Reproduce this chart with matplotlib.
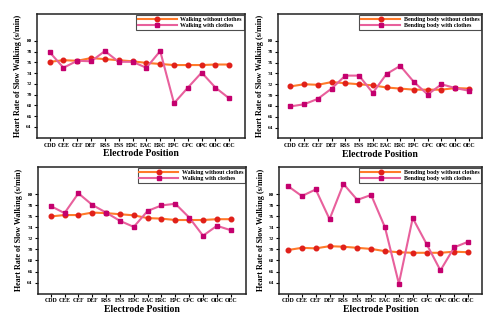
import matplotlib
matplotlib.use("Agg")
import matplotlib.pyplot as plt

categories = ["CDD", "CEE", "CEF", "DEF", "RSS", "ESS", "EDC", "EAC", "ERC",
              "EPC", "CPC", "OPC", "ODC", "OEC"]

walk1_without = [76.1, 76.4, 76.3, 76.8, 76.6, 76.4, 76.2, 75.9, 75.7, 75.5, 75.5, 75.5, 75.6, 75.6]
walk1_with = [77.9, 75.0, 76.3, 76.2, 78.1, 76.1, 76.1, 75.0, 78.1, 68.4, 71.3, 74.1, 71.3, 69.3]

bend1_without = [71.6, 72.0, 71.9, 72.4, 72.2, 72.0, 71.8, 71.4, 71.2, 71.0, 71.0, 71.0, 71.3, 71.2]
bend1_with = [67.9, 68.3, 69.3, 71.2, 73.6, 73.6, 70.4, 73.9, 75.4, 72.4, 70.1, 72.0, 71.3, 70.8]

walk2_without = [76.0, 76.25, 76.25, 76.7, 76.6, 76.4, 76.2, 75.7, 75.6, 75.35, 75.35, 75.35, 75.5, 75.5]
walk2_with = [77.9, 76.6, 80.2, 78.1, 76.7, 75.2, 74.1, 77.0, 78.0, 78.3, 75.8, 72.5, 74.3, 73.5]

bend2_without = [69.9, 70.3, 70.2, 70.6, 70.5, 70.3, 70.1, 69.7, 69.5, 69.4, 69.4, 69.4, 69.6, 69.5]
bend2_with = [81.5, 79.7, 80.9, 75.5, 81.9, 79.0, 79.9, 74.0, 63.8, 75.7, 71.0, 66.2, 70.4, 71.4]

yticks = [64, 66, 68, 70, 72, 74, 76, 78, 80]

ylabel = "Heart Rate of Slow Walking (s/min)"
xlabel = "Electrode Position"

panels = [
    ([0.073, 0.575, 0.416, 0.382], walk1_without, walk1_with,
     "Walking without clothes", "Walking with clothes", (-0.95, 14.1)),
    ([0.556, 0.573, 0.408, 0.384], bend1_without, bend1_with,
     "Bending body without clothes", "Bending body with clothes", (-0.9, 13.95)),
    ([0.075, 0.094, 0.417, 0.391], walk2_without, walk2_with,
     "Walking without clothes", "Walking with clothes", (-0.95, 14.1)),
    ([0.558, 0.094, 0.406, 0.391], bend2_without, bend2_with,
     "Bending body without clothes", "Bending body with clothes", (-0.65, 14.0)),
]

serif = ["Liberation Serif", "DejaVu Serif"]

fig = plt.figure(figsize=(5.0, 3.24), dpi=100)
fig.patch.set_facecolor("white")

x = list(range(len(categories)))
for rect, without, withc, lab1, lab2, xl in panels:
    ax = fig.add_axes(rect)
    ax.plot(x, without, color="#FF7A2A", lw=1.5, marker="o", ms=3.3,
            mfc="#E0201A", mec="#E0201A", label=lab1, zorder=3)
    ax.plot(x, withc, color="#E8609C", lw=1.5, marker="s", ms=3.4,
            mfc="#C4006E", mec="#C4006E", label=lab2, zorder=4)
    ax.set_xlim(*xl)
    ax.set_ylim(62, 85)
    ax.set_xticks(x)
    ax.set_xticklabels(categories, fontsize=4.2, fontweight="bold", family=serif)
    ax.set_yticks(yticks)
    ax.set_yticklabels([str(v) for v in yticks], fontsize=3.8, fontweight="bold", family=serif)
    ax.tick_params(axis="both", length=2, width=0.8, pad=1.5, direction="out")
    for s in ax.spines.values():
        s.set_linewidth(1.1)
        s.set_color("#222222")
    ax.set_xlabel(xlabel, fontsize=7, fontweight="bold", family=serif, labelpad=1)
    ax.set_ylabel(ylabel, fontsize=5.8, fontweight="bold", family=serif, labelpad=3)
    leg = ax.legend(loc="upper right", prop={"family": serif, "weight": "bold", "size": 4.3},
                    frameon=True, fancybox=False, edgecolor="#222222",
                    handlelength=6.5, borderpad=0.3, labelspacing=0.15,
                    borderaxespad=0.15, handletextpad=0.6)
    leg.get_frame().set_linewidth(0.8)

fig.savefig("out.png", dpi=100, facecolor="white")
